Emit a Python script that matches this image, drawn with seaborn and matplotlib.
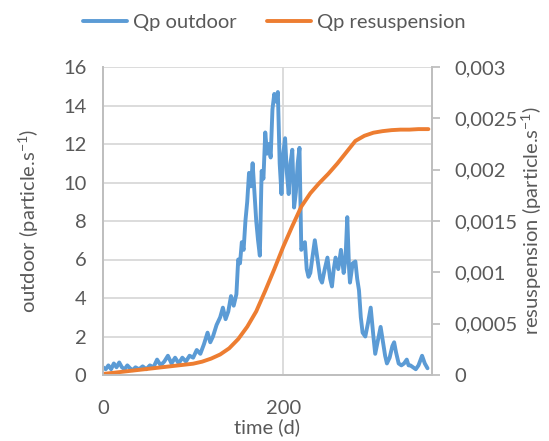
import seaborn as sns
import matplotlib.pyplot as plt
import matplotlib.ticker as mticker
import pandas as pd
import numpy as np

# Qp outdoor (particle/s)
t_out = [0, 3, 6, 9, 12, 15, 18, 21, 24, 27, 30, 33, 36, 40, 44, 48, 52, 56, 60, 64,
         68, 72, 76, 80, 84, 88, 92, 96, 100, 104, 108, 112, 116, 119, 122, 126, 130, 133,
         136, 139, 142, 145, 148, 150, 152, 154, 156, 158, 160, 162, 164, 166, 168, 170,
         172, 174, 176, 178, 180, 182, 184, 186, 188, 190, 192, 194, 196, 198, 200, 202,
         204, 206, 208, 210, 212, 214, 216, 218, 220, 222, 224, 226, 228, 230, 232, 235,
         238, 241, 243, 246, 249, 252, 254, 256, 258, 261, 264, 267, 269, 271, 273, 274,
         277, 280, 282, 284, 286, 288, 291, 294, 297, 300, 302, 305, 308, 311, 313, 315,
         318, 321, 323, 325, 328, 331, 334, 337, 339, 341, 344, 347, 350, 354, 357, 360]
q_out = [0.4, 0.3, 0.5, 0.3, 0.6, 0.4, 0.65, 0.4, 0.3, 0.5, 0.35, 0.25, 0.4, 0.3, 0.45, 0.3,
         0.5, 0.4, 0.8, 0.5, 0.7, 1.0, 0.6, 0.9, 0.6, 0.9, 0.7, 1.0, 0.9, 1.3, 1.1, 1.6, 2.2,
         1.7, 2.0, 2.6, 3.0, 3.5, 2.9, 3.3, 4.1, 3.6, 4.2, 6.0, 5.8, 6.9, 6.5, 8.0, 9.0, 10.5,
         9.8, 11.0, 9.5, 8.0, 7.0, 6.2, 10.6, 10.2, 12.6, 11.5, 12.0, 11.3, 13.8, 14.6, 14.2,
         14.7, 11.0, 9.4, 11.5, 12.3, 10.5, 9.4, 11.0, 11.7, 8.7, 9.5, 11.0, 11.8, 6.5, 6.7,
         6.9, 5.5, 5.1, 5.3, 6.0, 7.0, 6.0, 5.0, 4.8, 5.5, 6.1, 5.0, 4.6, 5.5, 6.1, 5.5, 6.5,
         5.3, 6.0, 8.2, 5.5, 4.8, 5.8, 5.9, 5.0, 4.4, 3.0, 2.2, 2.0, 2.7, 3.5, 2.0, 1.1, 1.8,
         2.5, 1.6, 1.0, 0.6, 0.9, 1.5, 1.7, 1.2, 0.6, 0.5, 0.6, 0.8, 0.5, 0.5, 0.4, 0.3, 0.5,
         1.0, 0.6, 0.35]

# Qp resuspension (particle/s)
t_res = [0, 20, 40, 60, 80, 100, 110, 120, 130, 140, 150, 160, 170, 180, 190, 200, 210,
         220, 230, 240, 250, 260, 270, 280, 290, 300, 310, 320, 330, 340, 350, 361]
q_res = [0.00001, 0.00003, 0.00005, 0.00007, 0.00009, 0.00011, 0.00013, 0.00016, 0.0002,
         0.00026, 0.00035, 0.00047, 0.00062, 0.00082, 0.00103, 0.00125, 0.00145, 0.00164,
         0.00177, 0.00187, 0.00196, 0.00206, 0.00217, 0.00228, 0.00233, 0.00236, 0.002375,
         0.002385, 0.00239, 0.00239, 0.002395, 0.002395]

df_out = pd.DataFrame({'time': t_out, 'q': q_out})
df_res = pd.DataFrame({'time': t_res, 'q': q_res})

sns.set_theme(style='white')
plt.rcParams['font.family'] = ['Lato', 'DejaVu Sans']
plt.rcParams['mathtext.default'] = 'regular'
txt = '#595959'
grid = '#D9D9D9'
blue = '#5B9BD5'
orange = '#ED7D31'
fs = 14.5

fig = plt.figure(figsize=(5.49, 4.41), dpi=100)
ax = fig.add_axes([103 / 549, 66 / 441, 329 / 549, 308 / 441])
ax2 = ax.twinx()

sns.lineplot(data=df_out, x='time', y='q', ax=ax, color=blue, linewidth=2.8,
             label='Qp outdoor', legend=False)
sns.lineplot(data=df_res, x='time', y='q', ax=ax2, color=orange, linewidth=2.8,
             label='Qp resuspension', legend=False)

ax.set_xlim(0, 365)
ax.set_ylim(0, 16)
ax2.set_ylim(0, 0.003)
ax.set_xticks([0, 200])
ax.set_yticks(range(0, 17, 2))
ax2.set_yticks(np.arange(0, 0.0031, 0.0005))
ax2.yaxis.set_major_formatter(mticker.FuncFormatter(lambda v, p: f'{v:g}'.replace('.', ',')))

ax.grid(True, color=grid, linewidth=1.3)
ax.set_axisbelow(True)
for a in (ax, ax2):
    for s in a.spines.values():
        s.set_color('#BFBFBF')
        s.set_linewidth(1.3)
    a.spines['top'].set_visible(False)

ax.tick_params(axis='both', length=0, labelsize=fs, labelcolor=txt)
ax.tick_params(axis='x', pad=18)
ax.tick_params(axis='y', pad=12)
ax2.tick_params(axis='y', length=6, width=1.3, color='#BFBFBF', labelsize=fs,
                labelcolor=txt, pad=10)

ax.set_xlabel('time (d)', fontsize=fs, color=txt, labelpad=1)
ax.set_ylabel('outdoor (particle.s$^{-1}$)', fontsize=fs, color=txt, labelpad=16)
ax2.set_ylabel('resuspension (particle.s$^{-1}$)', fontsize=fs, color=txt, labelpad=2)

h1, l1 = ax.get_legend_handles_labels()
h2, l2 = ax2.get_legend_handles_labels()
fig.legend(h1 + h2, l1 + l2, loc='upper center', bbox_to_anchor=(0.5, 1.01), ncol=2,
           frameon=False, fontsize=fs, labelcolor=txt, handlelength=2.2,
           columnspacing=1.5, handletextpad=0.3)

fig.savefig('out.png', dpi=100)
